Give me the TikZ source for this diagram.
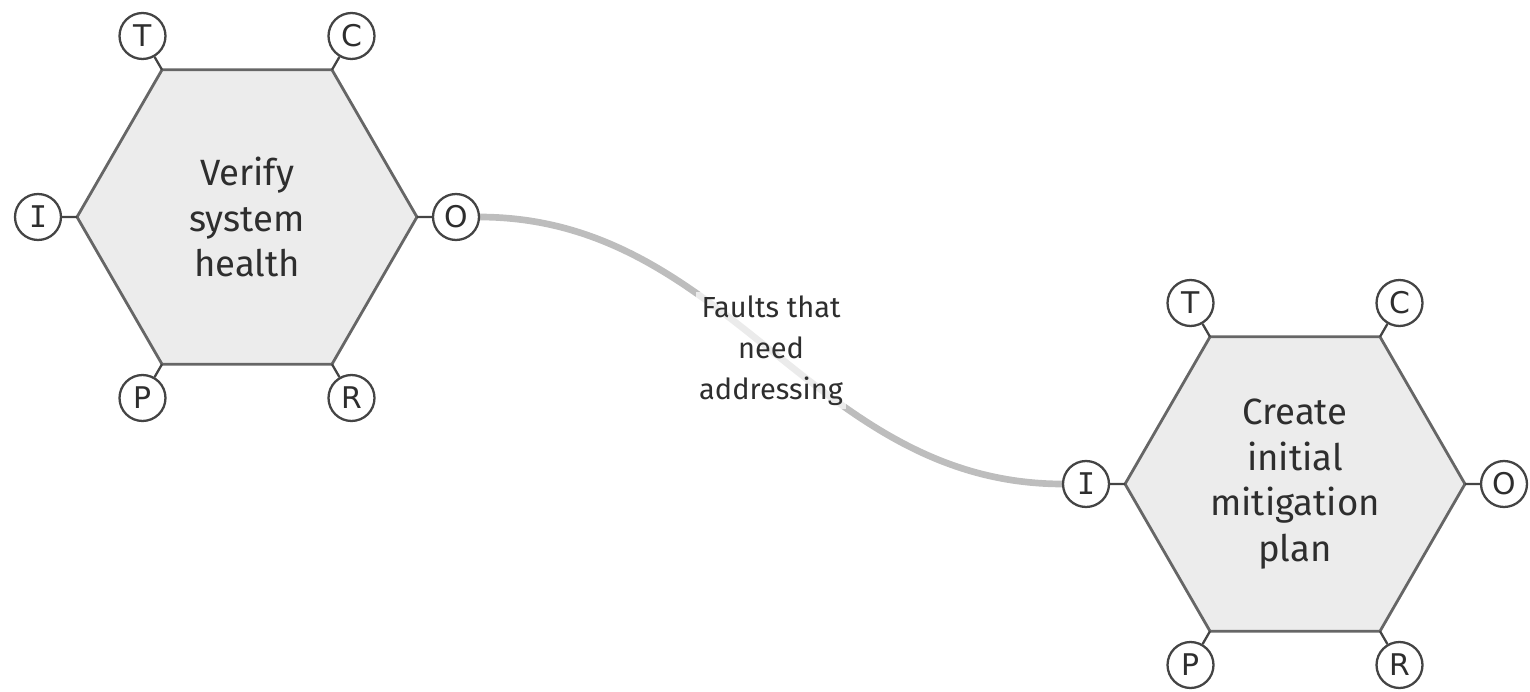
\documentclass[tikz,border=0pt]{standalone}
\usepackage{fontspec}
\setmainfont{Fira Sans}
\newfontfamily\portfont{DejaVu Sans}
\newfontfamily\portmono{DejaVu Sans Mono}
\usetikzlibrary{shapes.geometric}
\definecolor{hexfill}{HTML}{ECECEC}
\definecolor{hexline}{HTML}{666666}
\definecolor{portline}{HTML}{444444}
\definecolor{flowgray}{HTML}{BDBDBD}
\definecolor{textgray}{HTML}{2E2E2E}
\tikzset{
  hexa/.style={regular polygon, regular polygon sides=6, minimum size=6.8cm,
    inner sep=0pt, outer sep=0pt, draw=hexline, fill=hexfill, line width=1.6pt,
    text=textgray, align=center, font=\fontsize{20.8}{26}\selectfont},
  port/.style={circle, draw=portline, fill=white, line width=1.3pt,
    minimum size=0.92cm, inner sep=0pt, text=textgray,
    font=\portfont\fontsize{17}{18}\selectfont},
  stub/.style={draw=portline, line width=1.3pt},
  flow/.style={draw=flowgray, line width=3.8pt},
  flowlabel/.style={fill=white, fill opacity=0.7, text opacity=1, text=textgray,
    align=center, inner sep=2pt, font=\fontsize{16.5}{23.2}\selectfont}
}
\begin{document}
\begin{tikzpicture}[x=0.02cm,y=-0.02cm]
        \useasboundingbox (0,0) rectangle (1530,692);
        % Connector between the two steps (drawn first, so it stays behind)
        \coordinate (vhOe) at (479,217);
        \coordinate (mpIe) at (1063,484);
        \draw[flow] (vhOe) to[out=0,in=180]
            node[flowlabel] {Faults that\\need\\addressing} (mpIe);
        % Left step
        \node[hexa] (vh) at (247,217) {Verify\\system\\health};
        \node[port] (vhT) at (142.5,36)  {T};
        \node[port] (vhC) at (351.5,36)  {C};
        \node[port] (vhI) at (38,217)    {\portmono I};
        \node[port] (vhO) at (456,217)   {O};
        \node[port] (vhP) at (142.5,398) {P};
        \node[port] (vhR) at (351.5,398) {R};
        \draw[stub] (vh.120) -- (vhT);
        \draw[stub] (vh.60)  -- (vhC);
        \draw[stub] (vh.180) -- (vhI);
        \draw[stub] (vh.0)   -- (vhO);
        \draw[stub] (vh.240) -- (vhP);
        \draw[stub] (vh.300) -- (vhR);
        % Right step
        \node[hexa] (mp) at (1295,484) {Create\\initial\\mitigation\\plan};
        \node[port] (mpT) at (1190.5,303) {T};
        \node[port] (mpC) at (1399.5,303) {C};
        \node[port] (mpI) at (1086,484)   {\portmono I};
        \node[port] (mpO) at (1504,484)   {O};
        \node[port] (mpP) at (1190.5,665) {P};
        \node[port] (mpR) at (1399.5,665) {R};
        \draw[stub] (mp.120) -- (mpT);
        \draw[stub] (mp.60)  -- (mpC);
        \draw[stub] (mp.180) -- (mpI);
        \draw[stub] (mp.0)   -- (mpO);
        \draw[stub] (mp.240) -- (mpP);
        \draw[stub] (mp.300) -- (mpR);
\end{tikzpicture}
\end{document}
